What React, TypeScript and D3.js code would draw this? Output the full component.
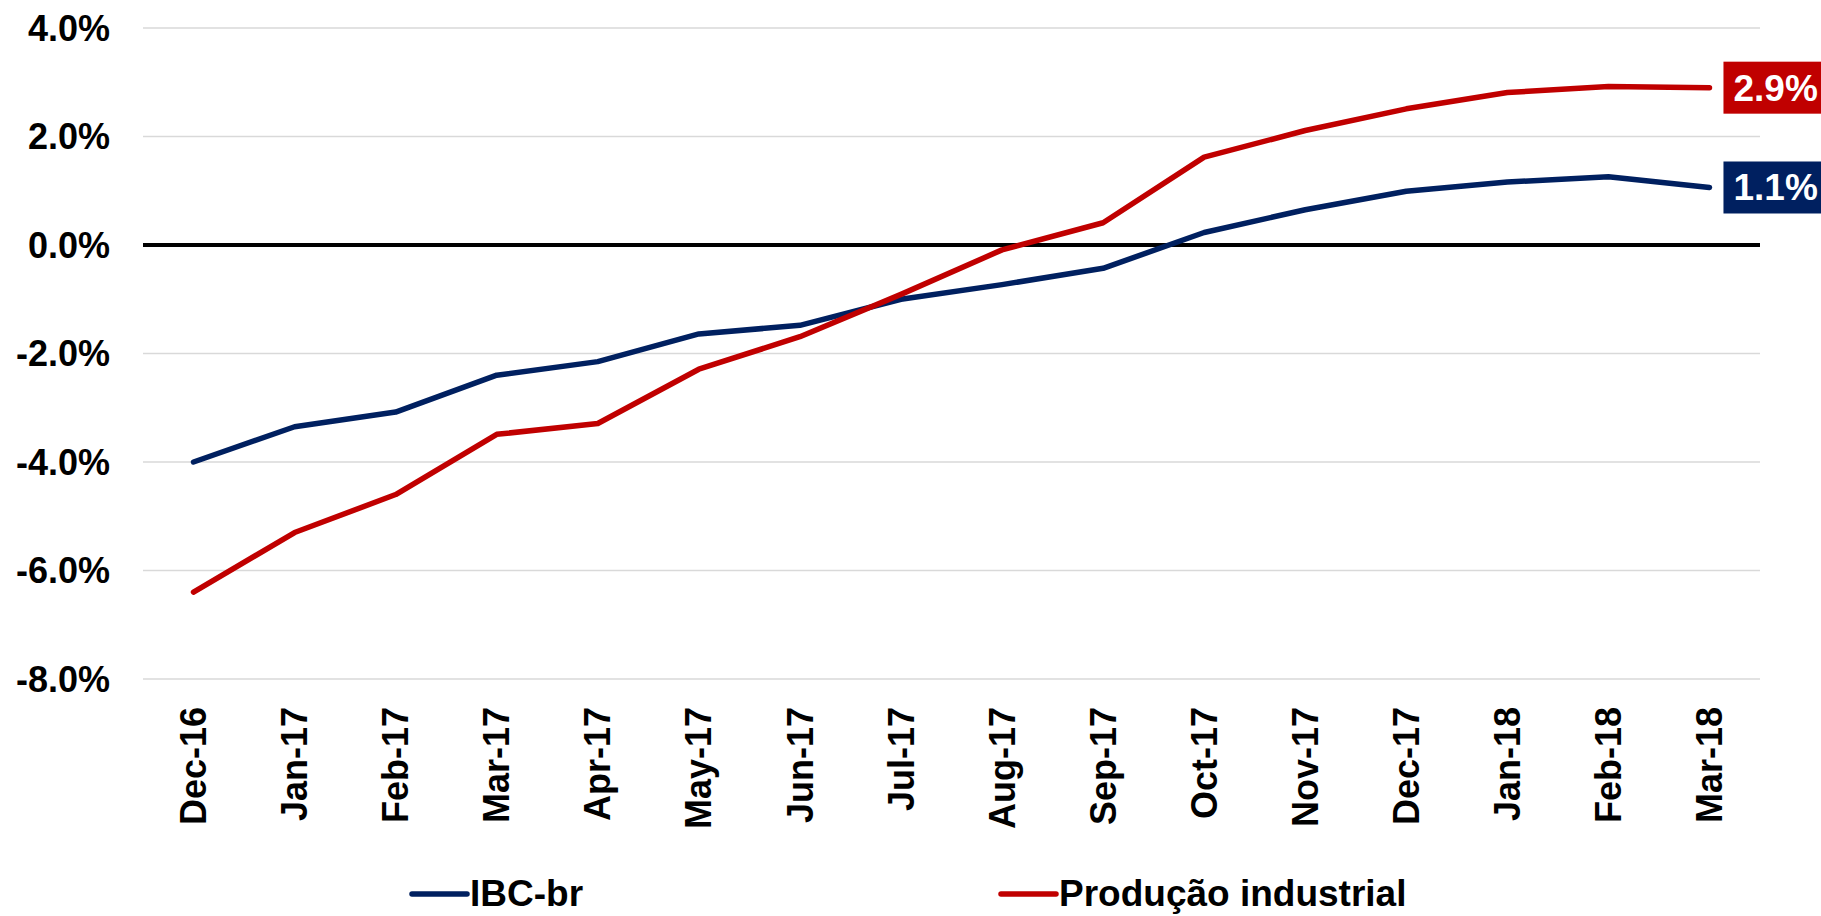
import { line, scaleLinear, scalePoint } from "d3";
import React from "react";

const months = [
  "Dec-16", "Jan-17", "Feb-17", "Mar-17", "Apr-17", "May-17", "Jun-17", "Jul-17",
  "Aug-17", "Sep-17", "Oct-17", "Nov-17", "Dec-17", "Jan-18", "Feb-18", "Mar-18",
];

const ibcBr = [
  -4.0, -3.35, -3.08, -2.4, -2.15, -1.64, -1.48, -1.0,
  -0.73, -0.43, 0.23, 0.65, 0.99, 1.16, 1.26, 1.06,
];

const producaoIndustrial = [
  -6.4, -5.3, -4.6, -3.49, -3.29, -2.29, -1.69, -0.91,
  -0.09, 0.41, 1.62, 2.11, 2.51, 2.81, 2.92, 2.9,
];

const yTicks = [4, 2, 0, -2, -4, -6, -8];

const BLUE = "#002060";
const RED = "#C00000";
const FONT = "'Liberation Sans', Arial, sans-serif";

const series = [
  { name: "IBC-br", values: ibcBr, color: BLUE, legendX: 412 },
  { name: "Produção industrial", values: producaoIndustrial, color: RED, legendX: 1001 },
];

const width = 1821;
const height = 916;

export default function App() {
  const x = scalePoint<string>().domain(months).range([143, 1760]).padding(0.5);
  const y = scaleLinear().domain([-8, 4]).range([679, 28]);

  const path = line<number>()
    .x((_, i) => x(months[i])!)
    .y((d) => y(d));

  const fmt = (v: number) => `${v.toFixed(1)}%`;
  const last = months.length - 1;

  return (
    <svg
      width={width}
      height={height}
      style={{ position: "absolute", left: 0, top: 0, background: "#fff" }}
      fontFamily={FONT}
      fontWeight="bold"
    >
      {/* grid */}
      {yTicks.map((t) => (
        <g key={t}>
          {t !== 0 && (
            <line x1={143} x2={1760} y1={y(t)} y2={y(t)} stroke="#d9d9d9" strokeWidth={1.5} />
          )}
          <text x={110} y={y(t)} dy="0.35em" textAnchor="end" fontSize={36} fill="#000">
            {fmt(t)}
          </text>
        </g>
      ))}
      <line x1={143} x2={1760} y1={y(0)} y2={y(0)} stroke="#000" strokeWidth={4} />

      {/* x labels */}
      {months.map((m) => (
        <text
          key={m}
          transform={`translate(${x(m)}, 707) rotate(-90)`}
          dy="0.35em"
          textAnchor="end"
          fontSize={36}
          fill="#000"
        >
          {m}
        </text>
      ))}

      {/* lines */}
      {series.map((s) => (
        <path
          key={s.name}
          d={path(s.values)!}
          fill="none"
          stroke={s.color}
          strokeWidth={5.5}
          strokeLinejoin="round"
          strokeLinecap="round"
        />
      ))}

      {/* end labels */}
      {series.map((s) => {
        const v = s.values[last];
        const px = x(months[last])!;
        const py = y(v);
        return (
          <g key={s.name} transform={`translate(${px + 14}, ${py})`}>
            <rect x={0} y={-26} width={104} height={52} fill={s.color} />
            <text x={10} dy="0.35em" fontSize={37} fill="#fff">
              {fmt(v)}
            </text>
          </g>
        );
      })}

      {/* legend */}
      {series.map((s) => (
        <g key={s.name} transform={`translate(${s.legendX}, 894)`}>
          <line x1={0} x2={55} stroke={s.color} strokeWidth={5.5} strokeLinecap="round" />
          <text x={58} dy="0.33em" fontSize={37} fill="#000">
            {s.name}
          </text>
        </g>
      ))}
    </svg>
  );
}
